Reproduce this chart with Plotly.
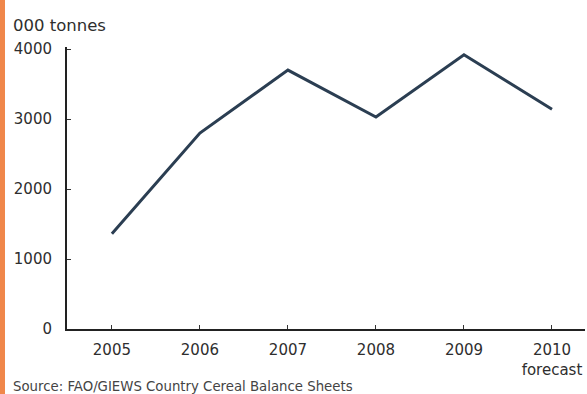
import plotly.graph_objects as go

years = [2005, 2006, 2007, 2008, 2009, 2010]
values = [1360, 2800, 3700, 3030, 3920, 3140]
x_tick_labels = ["2005", "2006", "2007", "2008", "2009", "2010<br>forecast"]
y_ticks = [0, 1000, 2000, 3000, 4000]

W, H = 587, 394
L, R, T, B = 67, 2, 47, 65
pw = W - L - R
ph = H - T - B

fig = go.Figure()
fig.add_trace(go.Scatter(
    x=years, y=values, mode="lines",
    line=dict(color="#2b3e52", width=3),
    hoverinfo="skip", showlegend=False,
))

FAM = "DejaVu Sans, Verdana, sans-serif"
font = dict(family=FAM, size=15, color="#2e2e2e")

fig.update_layout(
    width=W, height=H,
    margin=dict(l=L, r=R, t=T, b=B, autoexpand=False),
    paper_bgcolor="#ffffff", plot_bgcolor="#ffffff",
    font=font,
    xaxis=dict(
        range=[2004.49, 2010.375],
        tickvals=years, ticktext=x_tick_labels,
        ticks="inside", ticklen=4, tickwidth=1, tickcolor="#333",
        showline=True, linecolor="#222", linewidth=2,
        showgrid=False, zeroline=False, automargin=False,
        ticklabelstandoff=6,
        tickfont=font,
    ),
    yaxis=dict(
        range=[0, 4030],
        tickvals=y_ticks,
        ticks="inside", ticklen=4, tickwidth=1, tickcolor="#333",
        showline=True, linecolor="#222", linewidth=2,
        showgrid=False, zeroline=False, automargin=False,
        ticklabelstandoff=10,
        tickfont=font,
    ),
    shapes=[dict(
        type="rect", xref="paper", yref="paper",
        x0=-L / pw, x1=-(L - 5) / pw, y0=-B / ph, y1=(H - B) / ph,
        fillcolor="#f0874a", line=dict(width=0), layer="above",
    )],
    annotations=[
        dict(text="000 tonnes", xref="paper", yref="paper",
             x=-(L - 11) / pw, y=1 + 22 / ph, xanchor="left", yanchor="middle",
             showarrow=False, font=dict(family=FAM, size=16.5, color="#2e2e2e")),
        dict(text="Source: FAO/GIEWS Country Cereal Balance Sheets", xref="paper", yref="paper",
             x=-(L - 11) / pw, y=-(386 - (H - B)) / ph, xanchor="left", yanchor="middle",
             showarrow=False, font=dict(family=FAM, size=13.3, color="#444")),
    ],
)

fig.write_html("out.html", config={"displayModeBar": False},
               post_script="document.body.style.margin='0';document.body.style.overflow='hidden';")
